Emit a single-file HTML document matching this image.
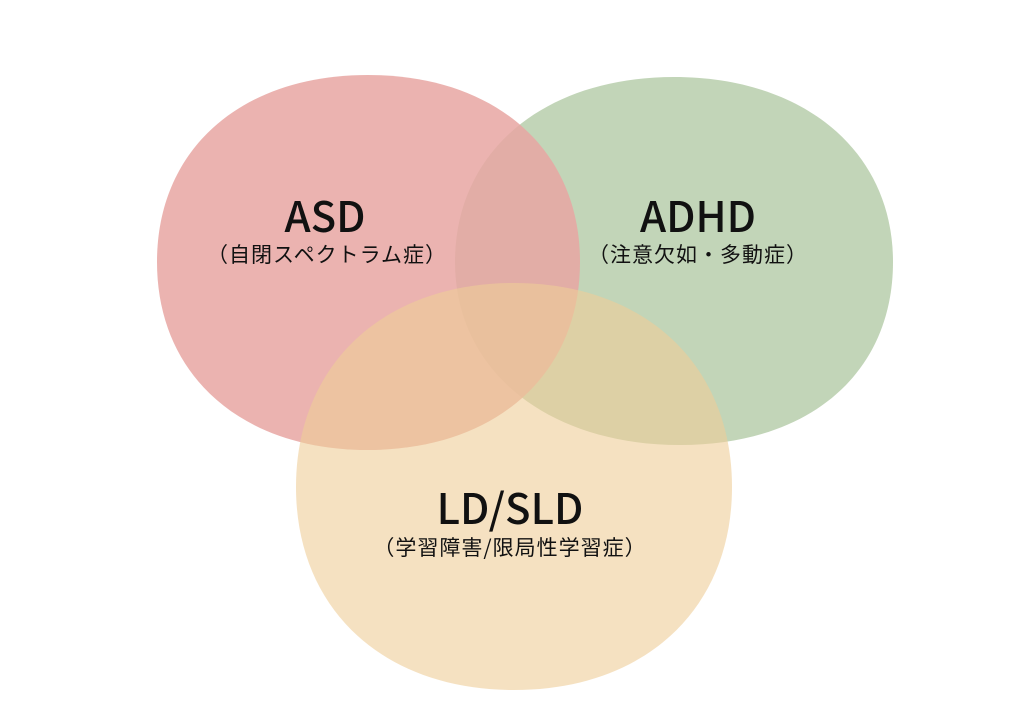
<!DOCTYPE html>
<html><head><meta charset="utf-8"><style>
html,body{margin:0;padding:0;background:#fff;}
svg{display:block}
text{font-family:"Noto Sans CJK JP","Liberation Sans",sans-serif;fill:#111;text-anchor:middle}
</style></head><body>
<svg width="1024" height="724" viewBox="0 0 1024 724">
<rect width="1024" height="724" fill="#fff"/>
<path d="M674,77 C805,77 893,152 893,262 C893,372 811,445 680,445 C549,445 455,372 455,262 C455,152 543,77 674,77Z" fill="#c2d5b8"/>
<path d="M368,75 C495,75 580,149 580,262 C580,375 495,450 368,450 C241,450 157,375 157,262 C157,149 241,75 368,75Z" fill="#e8a6a2" opacity="0.85"/>
<path d="M514,283 C645,283 732,365 732,487 C732,609 645,690 514,690 C383,690 296,609 296,487 C296,365 383,283 514,283Z" fill="#eecd98" opacity="0.6"/>
<text x="325" y="232" font-size="42" font-weight="500">ASD</text>
<text x="327" y="262" font-size="21" letter-spacing="1">（自閉スペクトラム症）</text>
<text x="698" y="232" font-size="42" font-weight="500">ADHD</text>
<text x="698" y="262" font-size="21" letter-spacing="1">（注意欠如・多動症）</text>
<text x="510" y="524" font-size="42" font-weight="500">LD/SLD</text>
<text x="510" y="555" font-size="21" letter-spacing="1">（学習障害/限局性学習症）</text>
</svg>
</body></html>
